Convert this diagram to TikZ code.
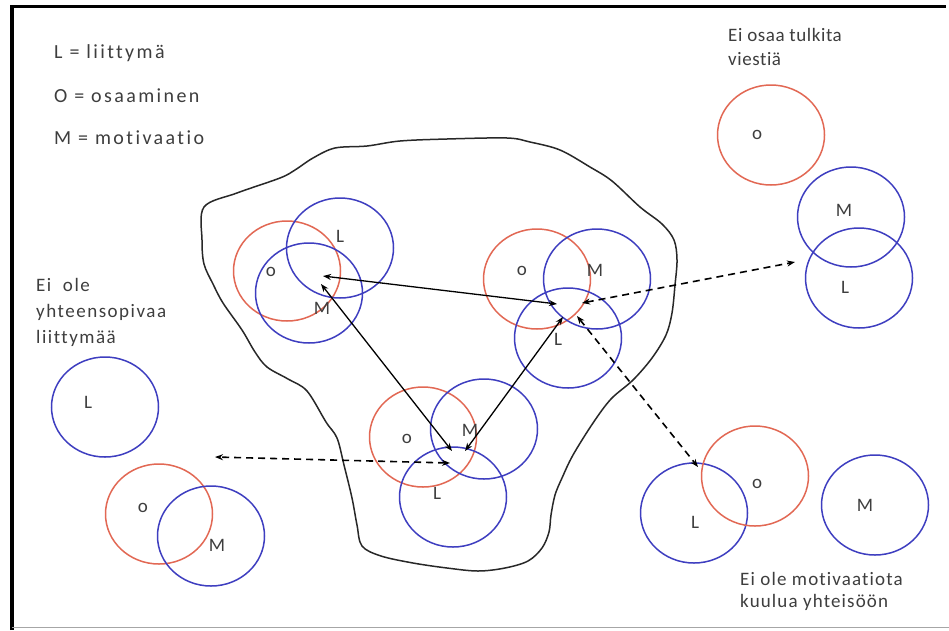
\documentclass[tikz,border=0pt]{standalone}
\usepackage{fontspec}
\setmainfont[Ligatures=NoCommon]{Carlito}
\newfontfamily\legendfont[LetterSpace=12,Ligatures=NoCommon]{Carlito}
\newfontfamily\sidefont[LetterSpace=8,Ligatures=NoCommon]{Carlito}
\newfontfamily\lowfont[LetterSpace=6,Ligatures=NoCommon]{Carlito}
\newfontfamily\topfont[LetterSpace=3,Ligatures=NoCommon]{Carlito}
\usetikzlibrary{shapes.geometric,arrows.meta}
\definecolor{ringred}{RGB}{226,104,84}
\definecolor{ringblue}{RGB}{62,62,192}
\definecolor{inkgray}{RGB}{62,62,62}
\definecolor{outline}{RGB}{40,40,40}

\begin{document}
\begin{tikzpicture}[x=1pt,y=-1pt,
  ring/.style={ellipse, draw, line width=1.5pt, inner sep=0pt,
               minimum width=107pt, minimum height=100pt},
  oring/.style={ring, draw=ringred},
  bring/.style={ring, draw=ringblue},
  tag/.style={font=\fontsize{19}{22}\selectfont, text=inkgray, inner sep=0pt},
  note/.style={text=inkgray, inner sep=0pt, anchor=base west},
  legend/.style={note, font=\legendfont\fontsize{20}{24}\selectfont},
  sidenote/.style={note, font=\sidefont\fontsize{19}{22}\selectfont},
  lownote/.style={note, font=\lowfont\fontsize{19}{22}\selectfont},
  topnote/.style={note, font=\topfont\fontsize{19}{22}\selectfont},
  link/.style={line width=1.3pt, draw=black,
               {Stealth[length=8pt,width=6pt]}-{Stealth[length=8pt,width=6pt]}},
  dlink/.style={link, line width=1.6pt, dash pattern=on 7pt off 5pt},
]
\useasboundingbox (0,0) rectangle (949,630);
\fill[white] (0,0) rectangle (949,630);

% frame
\draw[line width=3.2pt] (12,630) -- (12,6.5) -- (946,6.5);
\draw[black!35, line width=1pt] (12,627) -- (949,627);

% legend
\node[legend] (legL) at (54,58)  {L = liittymä};
\node[legend] (legO) at (54,102) {O = osaaminen};
\node[legend] (legM) at (54,144) {M = motivaatio};

% side notes
\node[topnote] (nTop1) at (728,41) {Ei osaa tulkita};
\node[topnote] (nTop2) at (728,65) {viestiä};
\node[sidenote] (nLeft1) at (36,291) {Ei\ \ ole};
\node[sidenote] (nLeft2) at (36,317) {yhteensopivaa};
\node[sidenote] (nLeft3) at (36,343) {liittymää};
\node[lownote] (nBot1) at (740,585) {Ei ole motivaatiota};
\node[lownote] (nBot2) at (740,607) {kuulua yhteisöön};

% community outline
\draw[outline, line width=1.5pt] plot[smooth cycle, tension=0.55] coordinates {
 (204,207) (237,193) (280,178) (295,170) (313,158) (335,148) (367,146)
 (400,141) (447,139) (507,138) (530,142) (560,150) (590,167) (612,181)
 (640,207) (662,224) (674,240) (677,260) (675,285) (672,313) (666,335)
 (652,358) (633,380) (611,399) (593,423) (573,455) (562,478) (555,495)
 (551,515) (549,532) (542,548) (528,561) (505,568) (478,571) (447,568)
 (413,563) (381,556) (362,546) (357,525) (352,498) (344,465) (337,438)
 (326,422) (307,391) (288,379) (267,367) (255,352) (242,330) (223,303)
 (213,284) (204,264) (202,240)};

% member, upper left
\node[oring] (aO) at (287,271) {};
\node[bring] (aL) at (340,248) {};
\node[bring] (aM) at (309,293) {};
\node[tag] (aOt) at (271,272) {o};
\node[tag] (aLt) at (340,236) {L};
\node[tag] (aMt) at (322,308) {M};

% member, upper right
\node[oring] (bO) at (537,279) {};
\node[bring] (bM) at (597,279) {};
\node[bring] (bL) at (568,338) {};
\node[tag] (bOt) at (522,271) {o};
\node[tag] (bMt) at (595,270) {M};
\node[tag] (bLt) at (558,339) {L};

% member, lower centre
\node[oring] (cO) at (423,437) {};
\node[bring] (cM) at (484,429) {};
\node[bring] (cL) at (453,497) {};
\node[tag] (cOt) at (407,439) {o};
\node[tag] (cMt) at (470,430) {M};
\node[tag] (cLt) at (437,493) {L};

% no matching connection
\node[bring] (lL) at (105,407) {};
\node[oring] (lO) at (159,514) {};
\node[bring] (lM) at (211,536) {};
\node[tag] (lLt) at (88,402) {L};
\node[tag] (lOt) at (143,508) {o};
\node[tag] (lMt) at (217,545) {M};

% cannot interpret the message
\node[oring] (rO) at (771,135) {};
\node[bring] (rM) at (851,217) {};
\node[bring] (rL) at (859,278) {};
\node[tag] (rOt) at (757,135) {o};
\node[tag] (rMt) at (844,210) {M};
\node[tag] (rLt) at (845,287) {L};

% no motivation to belong
\node[bring] (sL) at (694,513) {};
\node[oring] (sO) at (755,476) {};
\node[bring] (sM) at (875,505) {};
\node[tag] (sLt) at (695,522) {L};
\node[tag] (sOt) at (757,484) {o};
\node[tag] (sMt) at (865,505) {M};

% connector ends
\coordinate (pA1) at (323,276);
\coordinate (pA2) at (321,284);
\coordinate (pB1) at (557,304);
\coordinate (pB2) at (582,303);
\coordinate (pB3) at (563,317);
\coordinate (pB4) at (577,316);
\coordinate (pC1) at (452,451);
\coordinate (pC2) at (465,451);
\coordinate (pC3) at (450,463);
\coordinate (pW) at (215,457);
\coordinate (pE) at (795,262);
\coordinate (pS) at (698,467);

% interactions inside the community
\draw[link] (pA1) -- (pB1);
\draw[link] (pA2) -- (pC1);
\draw[link] (pC2) -- (pB3);

% failed interactions
\draw[dlink] (pC3) -- (pW);
\draw[dlink] (pB2) -- (pE);
\draw[dlink] (pB4) -- (pS);
\end{tikzpicture}
\end{document}
